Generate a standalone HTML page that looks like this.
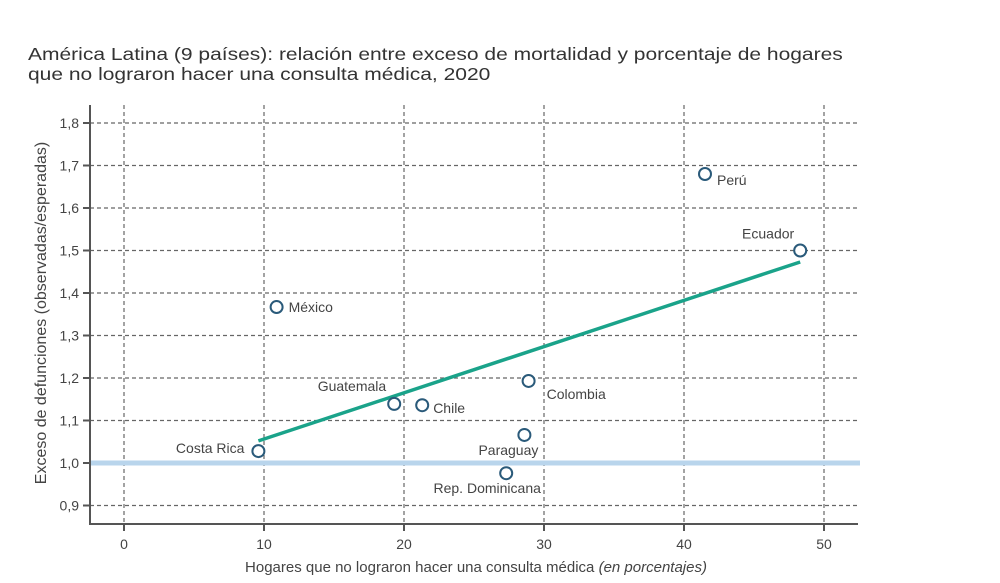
<!DOCTYPE html>
<html><head><meta charset="utf-8"><style>
body{margin:0;background:#fff;width:1000px;height:583px;overflow:hidden;font-family:"Liberation Sans",sans-serif}
.t{position:absolute;left:28px;top:44px;font-size:17.5px;line-height:20px;color:#333;transform:scaleX(1.2);transform-origin:0 0;white-space:nowrap}
svg text{font-family:"Liberation Sans Narrow","Liberation Sans",sans-serif;fill:#444}
</style></head><body>
<div class="t">América Latina (9 países): relación entre exceso de mortalidad y porcentaje de hogares<br>que no lograron hacer una consulta médica, 2020</div>
<svg id="c" width="1000" height="583" style="position:absolute;left:0;top:0"></svg>
<script>
const countries=["Perú","Ecuador","México","Colombia","Guatemala","Chile","Paraguay","Rep. Dominicana","Costa Rica"];
const xVals=[41.5,48.3,10.9,28.9,19.3,21.3,28.6,27.3,9.6];
const yVals=[1.68,1.50,1.367,1.193,1.139,1.136,1.066,0.976,1.028];
const trendX=[9.6,48.3];
const trendY=[1.052,1.473];
const xTicks=[0,10,20,30,40,50];
const yTicks=[0.9,1.0,1.1,1.2,1.3,1.4,1.5,1.6,1.7,1.8];
const refY=1.0;
const X=v=>124+v*14, Y=v=>463-(v-1)*425;
const s=document.getElementById('c'),NS='http://www.w3.org/2000/svg';
function el(t,a,txt){const e=document.createElementNS(NS,t);for(const k in a)e.setAttribute(k,a[k]);if(txt!=null)e.textContent=txt;s.appendChild(e);return e;}
yTicks.forEach(v=>{if(v===refY)return;const g=el('line',{x1:90,x2:858,y1:Y(v),y2:Y(v),stroke:'#666','stroke-dasharray':'4,3','stroke-width':1.2});

});
xTicks.forEach(v=>{const g=el('line',{x1:X(v),x2:X(v),y1:105,y2:524,stroke:'#666','stroke-dasharray':'4,3','stroke-width':1.2});

});
const r=el('line',{x1:90,x2:860,y1:Y(refY),y2:Y(refY),stroke:'#b9d5ec','stroke-width':5});


const ya=el('line',{x1:90,x2:90,y1:105,y2:524,stroke:'#555','stroke-width':2});


const xa=el('line',{x1:89,x2:858,y1:524,y2:524,stroke:'#555','stroke-width':2});


yTicks.forEach(v=>{el('line',{x1:83,x2:90,y1:Y(v),y2:Y(v),stroke:'#555','stroke-width':2});
const t=el('text',{x:79,y:Y(v)+5,'text-anchor':'end','font-size':14},v.toFixed(1).replace('.',','));

});
xTicks.forEach(v=>{el('line',{x1:X(v),x2:X(v),y1:524,y2:531,stroke:'#555','stroke-width':2});
const t=el('text',{x:X(v),y:549,'text-anchor':'middle','font-size':14},String(v));

});
const xt=el('text',{x:476,y:572,'text-anchor':'middle','font-size':15});
xt.innerHTML='Hogares que no lograron hacer una consulta médica <tspan font-style="italic">(en porcentajes)</tspan>';


const yt=el('text',{x:0,y:0,'text-anchor':'middle','font-size':16,transform:'translate(46,313) rotate(-90)'},'Exceso de defunciones (observadas/esperadas)');


const tl=el('line',{x1:X(trendX[0]),y1:Y(trendY[0]),x2:X(trendX[1]),y2:Y(trendY[1]),stroke:'#1aa38a','stroke-width':3.5});


const lab={"Perú":[12,11,'start'],"Ecuador":[-6,-12,'end'],"México":[12,5,'start'],"Colombia":[18,18,'start'],"Guatemala":[-8,-13,'end'],"Chile":[11,8,'start'],"Paraguay":[14,20,'end'],"Rep. Dominicana":[-19,20,'middle'],"Costa Rica":[-14,2,'end']};
countries.forEach((c,i)=>{const p=el('circle',{cx:X(xVals[i]),cy:Y(yVals[i]),r:6,fill:'#fff',stroke:'#2a5a7a','stroke-width':2});


const o=lab[c];const t=el('text',{x:X(xVals[i])+o[0],y:Y(yVals[i])+o[1],'text-anchor':o[2],'font-size':14},c);

});
</script>
</body></html>
